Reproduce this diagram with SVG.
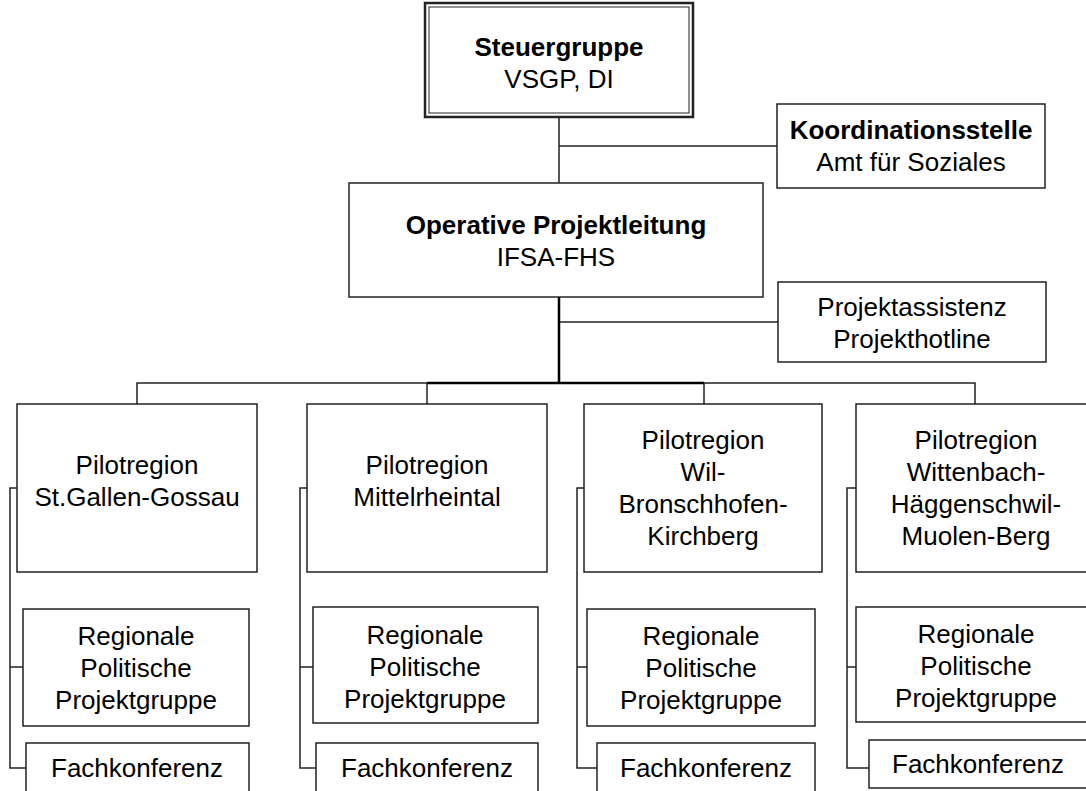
<svg xmlns="http://www.w3.org/2000/svg" width="1086" height="791" viewBox="0 0 1086 791">
<style>
.box{fill:#fff;stroke:#222;stroke-width:1.5}
.t{font-family:"Liberation Sans",Arial,sans-serif;font-size:26px;fill:#000;text-anchor:middle}
.b{font-weight:bold}
.c{fill:none;stroke:#222;stroke-width:1.5}
.ct{fill:none;stroke:#000;stroke-width:2.5}
</style>
<rect width="1086" height="791" fill="#fff"/>
<g id="connectors">
<path class="c" d="M559 117V183M559 146H777M559 322H778"/>
<path class="ct" d="M559 297V383M427 383H704"/>
<path class="c" d="M137 404V383H427M704 383H975V404M427 383V404M704 383V404"/>
<path class="c" d="M17 488H10V768H26M10 667H23"/>
<path class="c" d="M307 488H300V768H316M300 667H313"/>
<path class="c" d="M584 488H577V768H597M577 667H587"/>
<path class="c" d="M856 488H847V768H869M847 667H856"/>
</g>
<g id="steuergruppe">
<rect x="425" y="3" width="268" height="114" fill="#fff" stroke="#222" stroke-width="2.5"/>
<rect x="429" y="7" width="260" height="106" fill="none" stroke="#222" stroke-width="1"/>
<text class="t b" x="559" y="56">Steuergruppe</text>
<text class="t" x="559" y="88">VSGP, DI</text>
</g>
<g id="koordination">
<rect class="box" x="777" y="104" width="268" height="84"/>
<text class="t b" x="911" y="139">Koordinationsstelle</text>
<text class="t" x="911" y="171">Amt für Soziales</text>
</g>
<g id="operative">
<rect class="box" x="349" y="183" width="414" height="114"/>
<text class="t b" x="556" y="234">Operative Projektleitung</text>
<text class="t" x="556" y="266">IFSA-FHS</text>
</g>
<g id="assistenz">
<rect class="box" x="778" y="282" width="268" height="80"/>
<text class="t" x="912" y="316">Projektassistenz</text>
<text class="t" x="912" y="348">Projekthotline</text>
</g>
<g id="pilot1">
<rect class="box" x="17" y="404" width="240" height="168"/>
<text class="t" x="137" y="474">Pilotregion</text>
<text class="t" x="137" y="506">St.Gallen-Gossau</text>
</g>
<g id="pilot2">
<rect class="box" x="307" y="404" width="240" height="168"/>
<text class="t" x="427" y="474">Pilotregion</text>
<text class="t" x="427" y="506">Mittelrheintal</text>
</g>
<g id="pilot3">
<rect class="box" x="584" y="404" width="238" height="168"/>
<text class="t" x="703" y="449">Pilotregion</text>
<text class="t" x="703" y="481">Wil-</text>
<text class="t" x="703" y="513">Bronschhofen-</text>
<text class="t" x="703" y="545">Kirchberg</text>
</g>
<g id="pilot4">
<rect class="box" x="856" y="404" width="240" height="168"/>
<text class="t" x="976" y="449">Pilotregion</text>
<text class="t" x="976" y="481">Wittenbach-</text>
<text class="t" x="976" y="513">Häggenschwil-</text>
<text class="t" x="976" y="545">Muolen-Berg</text>
</g>
<g id="regional1">
<rect class="box" x="23" y="609" width="226" height="117"/>
<text class="t" x="136" y="645">Regionale</text>
<text class="t" x="136" y="677">Politische</text>
<text class="t" x="136" y="709">Projektgruppe</text>
</g>
<g id="regional2">
<rect class="box" x="313" y="607" width="225" height="116"/>
<text class="t" x="425" y="644">Regionale</text>
<text class="t" x="425" y="676">Politische</text>
<text class="t" x="425" y="708">Projektgruppe</text>
</g>
<g id="regional3">
<rect class="box" x="587" y="609" width="228" height="117"/>
<text class="t" x="701" y="645">Regionale</text>
<text class="t" x="701" y="677">Politische</text>
<text class="t" x="701" y="709">Projektgruppe</text>
</g>
<g id="regional4">
<rect class="box" x="856" y="607" width="240" height="115"/>
<text class="t" x="976" y="643">Regionale</text>
<text class="t" x="976" y="675">Politische</text>
<text class="t" x="976" y="707">Projektgruppe</text>
</g>
<g id="fach1">
<rect class="box" x="26" y="743" width="223" height="60"/>
<text class="t" x="137" y="777">Fachkonferenz</text>
</g>
<g id="fach2">
<rect class="box" x="316" y="743" width="222" height="60"/>
<text class="t" x="427" y="777">Fachkonferenz</text>
</g>
<g id="fach3">
<rect class="box" x="597" y="743" width="218" height="60"/>
<text class="t" x="706" y="777">Fachkonferenz</text>
</g>
<g id="fach4">
<rect class="box" x="869" y="740" width="227" height="48"/>
<text class="t" x="978" y="773">Fachkonferenz</text>
</g>
</svg>
